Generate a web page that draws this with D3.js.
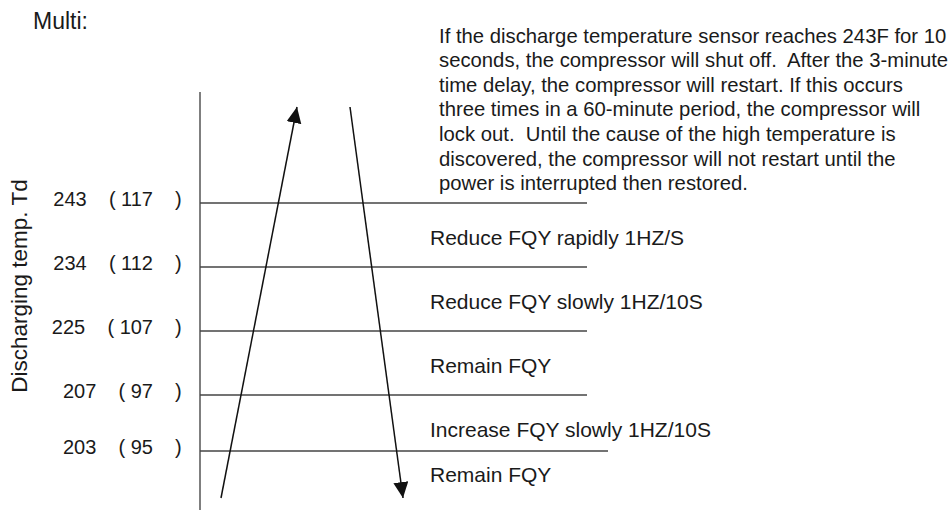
<!DOCTYPE html>
<html>
<head>
<meta charset="utf-8">
<script src="https://cdn.jsdelivr.net/npm/d3@7"></script>
<style>
  html, body { margin: 0; padding: 0; background: #fff; }
  svg { display: block; }
  text { font-family: "Liberation Sans", Arial, sans-serif; fill: #1a1a1a; }
</style>
</head>
<body>
<div id="chart"></div>
<script>
// 阈值 (F / C)
const levelsF = [243, 234, 225, 207, 203];
const levelsC = [117, 112, 107, 97, 95];
const zoneLabels = [
    'Reduce FQY rapidly 1HZ/S',
    'Reduce FQY slowly 1HZ/10S',
    'Remain FQY',
    'Increase FQY slowly 1HZ/10S',
    'Remain FQY'
];
const noteLines = [
    'If the discharge temperature sensor reaches 243F for 10',
    'seconds, the compressor will shut off.  After the 3-minute',
    'time delay, the compressor will restart. If this occurs',
    'three times in a 60-minute period, the compressor will',
    'lock out.  Until the cause of the high temperature is',
    'discovered, the compressor will not restart until the',
    'power is interrupted then restored.'
];
const titleText = 'Multi:';
const axisTitle = 'Discharging temp. Td';

const width = 952;
const height = 510;
const axisX = 200;
const lineEnd = 587;

const svg = d3.select('#chart').append('svg')
    .attr('width', width)
    .attr('height', height)
    .attr('viewBox', `0 0 ${width} ${height}`)

// 分段线性比例尺
const y = d3.scaleLinear()
    .domain([203, 207, 225, 234, 243])
    .range([451, 395, 331, 267, 203])

svg.append('defs').append('marker')
    .attr('id', 'head')
    .attr('markerUnits', 'userSpaceOnUse')
    .attr('markerWidth', 17)
    .attr('markerHeight', 16)
    .attr('refX', 16)
    .attr('refY', 7.5)
    .attr('orient', 'auto')
    .append('path')
    .attr('d', 'M0,0 L16,7.5 L0,15 Z')
    .attr('fill', '#111')

svg.append('text')
    .attr('x', 33)
    .attr('y', 29)
    .attr('font-size', 23)
    .text(titleText)

svg.append('text')
    .attr('transform', `translate(27, 286) rotate(-90)`)
    .attr('text-anchor', 'middle')
    .attr('font-size', 22.5)
    .text(axisTitle)

// 纵轴
svg.append('line')
    .attr('x1', axisX).attr('x2', axisX)
    .attr('y1', 92).attr('y2', height)
    .attr('stroke', '#555')
    .attr('stroke-width', 1.5)

// 阈值线
svg.append('g')
    .selectAll('line')
    .data(levelsF)
    .join('line')
    .attr('x1', axisX)
    .attr('x2', (d, i) => i === levelsF.length - 1 ? lineEnd + 21 : lineEnd)
    .attr('y1', d => y(d))
    .attr('y2', d => y(d))
    .attr('stroke', '#444')
    .attr('stroke-width', 1.4)

// 左侧刻度
const ticks = svg.append('g')
    .attr('font-size', 20)
ticks.selectAll('text.val')
    .data(levelsF)
    .join('text')
    .attr('class', 'val')
    .attr('xml:space', 'preserve')
    .attr('text-anchor', 'end')
    .attr('x', 153)
    .attr('y', d => y(d) + 3)
    .text((d, i) => `${d}    ( ${levelsC[i]}`)
ticks.selectAll('text.close')
    .data(levelsF)
    .join('text')
    .attr('class', 'close')
    .attr('x', 175)
    .attr('y', d => y(d) + 3)
    .text(')')

// 区间说明
svg.append('g')
    .attr('font-size', 21)
    .selectAll('text')
    .data(zoneLabels)
    .join('text')
    .attr('x', 430)
    .attr('y', (d, i) => y(levelsF[i]) + (i === zoneLabels.length - 1 ? 31 : 41.5))
    .text(d => d)

// 说明文字
svg.append('text')
    .attr('font-size', 20.3)
    .attr('xml:space', 'preserve')
    .selectAll('tspan')
    .data(noteLines)
    .join('tspan')
    .attr('x', 439)
    .attr('y', (d, i) => 42.5 + i * 24.6)
    .text(d => d)

// 箭头
svg.append('line')
    .attr('x1', 221).attr('y1', 498)
    .attr('x2', 297).attr('y2', 107)
    .attr('stroke', '#111')
    .attr('stroke-width', 1.5)
    .attr('marker-end', 'url(#head)')

svg.append('line')
    .attr('x1', 350).attr('y1', 107)
    .attr('x2', 403).attr('y2', 498)
    .attr('stroke', '#111')
    .attr('stroke-width', 1.5)
    .attr('marker-end', 'url(#head)')
</script>
</body>
</html>
